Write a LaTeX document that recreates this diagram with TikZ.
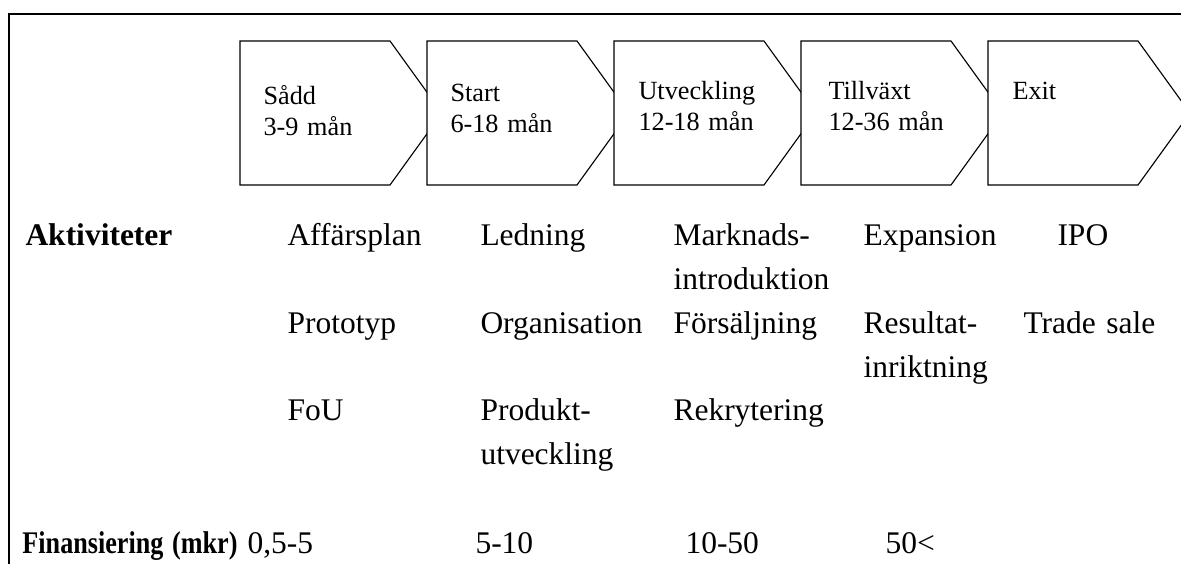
\documentclass[tikz,border=0pt]{standalone}
\usepackage{fontspec}
\setmainfont{Liberation Serif}
\usetikzlibrary{positioning}

\newcommand{\narrow}[1]{\scalebox{0.83}[1]{#1}}

\begin{document}
\begin{tikzpicture}[
    x=0.4pt, y=-0.4pt,
    frame/.style={line width=0.6pt},
    chevron/.style={draw, fill=white, line width=0.45pt, line join=miter},
    phase/.style={anchor=base west, inner sep=0pt, text width=3cm, align=left, font=\fontsize{10.5}{12.3}\selectfont},
    item/.style={anchor=base west, inner sep=0pt, text width=4cm, align=left, font=\fontsize{12.6}{17.5}\selectfont},
    head/.style={item, font=\fontsize{12.6}{17.5}\selectfont\bfseries}
]
\useasboundingbox (0,0) rectangle (1181,564);
\clip (0,0) rectangle (1181,564);

\draw[frame] (9,570) -- (9,14) -- (1190,14);

% phases
\foreach \l in {240,427,614,801,988}
    \draw[chevron] (\l,41) -- (\l+150,41) -- (\l+202,113) -- (\l+150,185) -- (\l,185) -- cycle;

\node[phase] (sadd) at (263,105) {Sådd\\3-9 mån};
\node[phase] (start) at (450,102) {Start\\6-18 mån};
\node[phase] (utv) at (638,100) {Utveckling\\12-18 mån};
\node[phase] (tillv) at (828,100) {Tillväxt\\12-36 mån};
\node[phase] (exit) at (1012,100) {Exit};

% activities
\node[head] (akt) at (25,246) {Aktiviteter};
\node[item] (a1) at (287,246) {Affärsplan};
\node[item] (a2) at (287,334) {Prototyp};
\node[item] (a3) at (287,421) {FoU};
\node[item] (b1) at (480,246) {Ledning};
\node[item] (b2) at (480,334) {Organisation};
\node[item] (b3) at (480,421) {Produkt-\\utveckling};
\node[item] (c1) at (673,246) {Marknads-\\introduktion};
\node[item] (c2) at (673,334) {Försäljning};
\node[item] (c3) at (673,421) {Rekrytering};
\node[item] (d1) at (863,246) {Expansion};
\node[item] (d2) at (863,334) {Resultat-\\inriktning};
\node[item] (e1) at (1057,246) {IPO};
\node[item] (e2) at (1023,334) {Trade sale};

% financing
\node[head] (fin) at (22,554) {\narrow{Finansiering (mkr)}};
\node[item] (f1) at (247,554) {0,5-5};
\node[item] (f2) at (475,554) {5-10};
\node[item] (f3) at (685,554) {10-50};
\node[item] (f4) at (885,554) {50<};
\end{tikzpicture}
\end{document}
